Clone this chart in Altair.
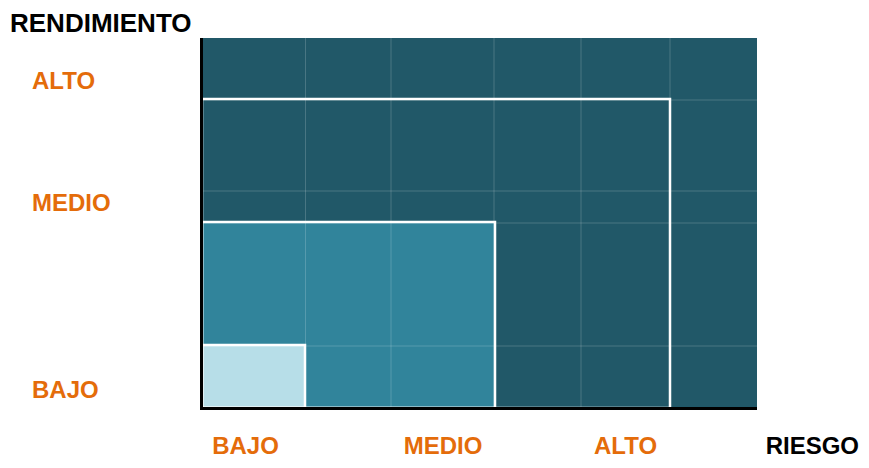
import altair as alt
import pandas as pd

# Nested zones (plot units: x = riesgo, y = rendimiento)
zone_names = ["total", "contorno", "medio", "bajo"]
zone_x2 = [555, 468, 293, 103]
zone_y2 = [370, 309, 186, 63]
zone_fill = ["#215868", "#215868", "#31849B", "#B7DEE8"]
zone_stroke_w = [0, 2.5, 2.5, 2.5]

# faint background grid
grid_x = [103.5, 189, 292, 379, 468]
grid_y = [62, 185, 217, 308]

# labels
y_labels = ["ALTO", "MEDIO", "BAJO"]
y_label_pos = [326, 204, 17.5]
x_labels = ["BAJO", "MEDIO", "ALTO"]
x_label_pos = [43.5, 241, 423.5]

W, H = 555, 370
xs = alt.Scale(domain=[0, W], nice=False, zero=False)
ys = alt.Scale(domain=[0, H], nice=False, zero=False)

zones = pd.DataFrame({
    "name": zone_names, "x": [0] * 4, "y": [0] * 4,
    "x2": zone_x2, "y2": zone_y2, "fill": zone_fill, "sw": zone_stroke_w,
})

base_rect = alt.Chart(zones).mark_rect(strokeWidth=0).encode(
    x=alt.X("x:Q", scale=xs, axis=None),
    x2="x2:Q",
    y=alt.Y("y:Q", scale=ys, axis=None),
    y2="y2:Q",
    fill=alt.Fill("fill:N", scale=None),
    order=alt.Order("x2:Q", sort="descending"),
)

gx = alt.Chart(pd.DataFrame({"x": grid_x})).mark_rule(
    color="white", opacity=0.18, strokeWidth=1
).encode(x=alt.X("x:Q", scale=xs, axis=None), y=alt.value(0), y2=alt.value(H))

gy = alt.Chart(pd.DataFrame({"y": grid_y})).mark_rule(
    color="white", opacity=0.18, strokeWidth=1
).encode(y=alt.Y("y:Q", scale=ys, axis=None), x=alt.value(0), x2=alt.value(W))

# white outlines above grid
outline = alt.Chart(zones[zones["sw"] > 0]).mark_rect(
    fillOpacity=0, stroke="white", strokeWidth=2.5
).encode(
    x=alt.X("x:Q", scale=xs, axis=None), x2="x2:Q",
    y=alt.Y("y:Q", scale=ys, axis=None), y2="y2:Q",
)

axis_left = alt.Chart(pd.DataFrame({"a": [0]})).mark_rule(
    color="black", strokeWidth=3
).encode(x=alt.value(-0.5), y=alt.value(0), y2=alt.value(H + 1.5))

axis_bottom = alt.Chart(pd.DataFrame({"a": [0]})).mark_rule(
    color="black", strokeWidth=3
).encode(y=alt.value(H + 0.5), x=alt.value(-2), x2=alt.value(W))

ylab = alt.Chart(pd.DataFrame({"t": y_labels, "y": y_label_pos, "x": [-170] * 3})).mark_text(
    align="left", baseline="middle", font="Liberation Sans", fontWeight="bold",
    fontSize=24, color="#E46C0A"
).encode(x=alt.X("x:Q", scale=xs, axis=None), y=alt.Y("y:Q", scale=ys, axis=None), text="t:N")

xlab = alt.Chart(pd.DataFrame({"t": x_labels, "x": x_label_pos, "y": [-39] * 3})).mark_text(
    align="center", baseline="middle", font="Liberation Sans", fontWeight="bold",
    fontSize=24, color="#E46C0A"
).encode(x=alt.X("x:Q", scale=xs, axis=None), y=alt.Y("y:Q", scale=ys, axis=None), text="t:N")

t1 = alt.Chart(pd.DataFrame({"t": ["RENDIMIENTO"], "x": [-192], "y": [384]})).mark_text(
    align="left", baseline="middle", font="Liberation Sans", fontWeight="bold",
    fontSize=26, color="black"
).encode(x=alt.X("x:Q", scale=xs, axis=None), y=alt.Y("y:Q", scale=ys, axis=None), text="t:N")
t2 = alt.Chart(pd.DataFrame({"t": ["RIESGO"], "x": [657], "y": [-39]})).mark_text(
    align="right", baseline="middle", font="Liberation Sans", fontWeight="bold",
    fontSize=24, color="black"
).encode(x=alt.X("x:Q", scale=xs, axis=None), y=alt.Y("y:Q", scale=ys, axis=None), text="t:N")

chart = alt.layer(
    base_rect, gx, gy, outline, axis_left, axis_bottom, ylab, xlab, t1, t2
).properties(
    width=W, height=H,
    autosize=alt.AutoSizeParams(type="none"),
    padding={"left": 194, "top": 30, "right": 104, "bottom": 52},
).configure_view(stroke=None)

chart.save("out.html", embed_options={"renderer": "svg", "actions": False})
